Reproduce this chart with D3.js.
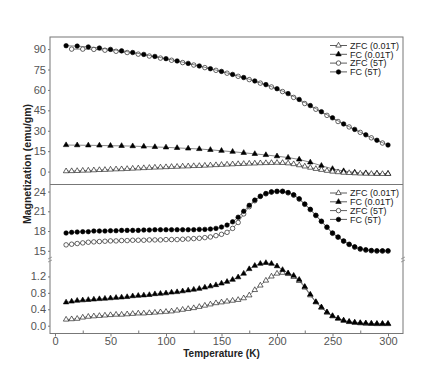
<!DOCTYPE html>
<html>
<head>
<meta charset="utf-8">
<script src="https://cdn.jsdelivr.net/npm/d3@7"></script>
<style>
body { margin: 0; background: #fff; }
text { font-family: "Liberation Sans", Arial, sans-serif; }
</style>
</head>
<body>
<div id="chart"></div>
<script>
// temperatures (K)
var tempsBy10 = [10,20,30,40,50,60,70,80,90,100,110,120,130,140,150,160,170,180,190,200,210,220,230,240,250,260,270,280,290,300];
var tempsBy10Offset = [15,25,35,45,55,65,75,85,95,105,115,125,135,145,155,165,175,185,195,205,215,225,235,245,255,265,275,285,295];
var tempsBy5 = [10,15,20,25,30,35,40,45,50,55,60,65,70,75,80,85,90,95,100,105,110,115,120,125,130,135,140,145,150,155,160,165,170,175,180,185,190,195,200,205,210,215,220,225,230,235,240,245,250,255,260,265,270,275,280,285,290,295,300];

// top panel (emu/gm)
var topZfc001 = [0.3,0.4,0.5,0.7,0.8,1.0,1.2,1.3,1.5,1.7,1.8,2.0,2.2,2.4,2.6,2.8,3.0,3.1,3.3,3.5,3.6,3.8,3.9,4.1,4.2,4.4,4.6,4.8,5.0,5.2,5.4,5.6,5.7,5.9,6.0,6.2,6.3,6.4,6.5,6.4,6.1,5.5,4.7,3.8,2.9,2.0,1.3,0.6,0.0,-0.4,-0.8,-1.0,-1.2,-1.4,-1.5,-1.6,-1.6,-1.7,-1.7];
var topFc001 = [19.5,19.4,19.3,19.2,19.0,18.9,18.7,18.4,18.1,17.8,17.4,17.0,16.6,16.0,15.3,14.6,13.8,13.0,12.2,11.3,10.3,8.9,6.8,4.3,2.0,0.4,-0.6,-1.1,-1.4,-1.5];
var topZfc5 = [90.0,90.0,89.8,89.2,88.4,87.5,86.3,84.9,83.4,81.8,80.1,78.3,76.4,74.4,72.3,70.0,67.6,65.0,62.2,58.8,54.5,50.0,45.8,41.3,36.8,32.8,28.8,24.8,21.0];
var topFc5 = [92.5,92.2,91.6,90.8,89.8,88.7,87.5,86.1,84.6,83.0,81.3,79.5,77.6,75.6,73.6,71.4,69.1,66.6,63.9,60.9,57.3,53.0,48.5,44.0,39.5,35.0,31.0,27.0,23.0,19.5];

// bottom panel (broken axis)
var botZfc001 = [0.15,0.16,0.17,0.20,0.22,0.23,0.24,0.25,0.26,0.27,0.27,0.28,0.29,0.30,0.30,0.31,0.32,0.33,0.34,0.35,0.37,0.39,0.41,0.43,0.46,0.49,0.52,0.55,0.57,0.59,0.61,0.63,0.67,0.74,0.87,0.98,1.10,1.20,1.27,1.29,1.26,1.19,1.09,0.93,0.74,0.57,0.44,0.32,0.23,0.17,0.12,0.09,0.07,0.06,0.05,0.05,0.04,0.04,0.04];
var botFc001 = [0.57,0.59,0.61,0.62,0.63,0.64,0.65,0.66,0.67,0.68,0.69,0.70,0.72,0.73,0.74,0.75,0.77,0.78,0.79,0.81,0.82,0.84,0.86,0.88,0.90,0.93,0.96,0.99,1.03,1.07,1.12,1.18,1.27,1.38,1.46,1.51,1.53,1.51,1.45,1.36,1.28,1.22,1.12,0.95,0.76,0.58,0.45,0.33,0.24,0.18,0.13,0.10,0.08,0.07,0.06,0.05,0.05,0.05,0.05];
var botZfc5 = [15.9,16.0,16.1,16.2,16.3,16.35,16.4,16.45,16.5,16.5,16.55,16.55,16.6,16.6,16.6,16.65,16.65,16.65,16.7,16.7,16.7,16.75,16.8,16.85,16.9,17.0,17.1,17.3,17.5,17.8,18.4,19.3,20.6,21.7,22.6,23.25,23.65,23.9,24.0,24.0,23.8,23.45,22.85,22.05,21.25,20.35,19.45,18.55,17.65,17.05,16.45,15.95,15.55,15.25,15.1,15.0,14.95,14.95,14.95];
var botFc5 = [17.7,17.8,17.85,17.9,17.9,18.0,18.0,18.0,18.05,18.05,18.1,18.1,18.1,18.1,18.15,18.15,18.2,18.2,18.2,18.2,18.2,18.2,18.2,18.2,18.25,18.25,18.3,18.4,18.6,18.9,19.4,20.1,21.0,21.9,22.7,23.3,23.7,23.95,24.05,24.05,23.85,23.5,22.9,22.1,21.3,20.4,19.5,18.6,17.7,17.1,16.5,16.0,15.6,15.3,15.15,15.05,15.0,15.0,15.0];

var topTicks = [0, 15, 30, 45, 60, 75, 90];
var upperTicks = [15, 18, 21, 24];
var lowerTicks = [0.0, 0.4, 0.8, 1.2];
var xTicks = [0, 50, 100, 150, 200, 250, 300];
var xMinorTicks = [25, 75, 125, 175, 225, 275];
var legendNames = ['ZFC (0.01T)', 'FC (0.01T)', 'ZFC (5T)', 'FC (5T)'];

var width = 436, height = 382;
var plotLeft = 50, plotRight = 403, plotTop = 37, plotMid = 184.5, plotBottom = 333.5, breakY = 260;

var svg = d3.select('#chart').append('svg')
  .attr('width', width)
  .attr('height', height);

var x = d3.scaleLinear().domain([-4.5, 313.5]).range([plotLeft, plotRight]);
var yTop = d3.scaleLinear().domain([-9.5, 98.9]).range([plotMid, plotTop]);
var yUpper = d3.scaleLinear().domain([13.6, 25.07]).range([breakY, plotMid]);
var yLower = d3.scaleLinear().domain([-0.19, 1.6]).range([plotBottom, breakY]);

var triangle = d3.symbol().type(d3.symbolTriangle).size(13);
var circle = d3.symbol().type(d3.symbolCircle).size(16);

// marker styles: open / filled triangle, open / filled circle
var styles = [
  { sym: triangle, fill: '#fff' },
  { sym: triangle, fill: '#000' },
  { sym: circle, fill: '#fff' },
  { sym: circle, fill: '#000' }
];

function drawSeries(temps, vals, y, style) {
  var pts = temps.map(function(t, i) { return [t, vals[i]]; });
  var line = d3.line()
    .x(function(d) { return x(d[0]); })
    .y(function(d) { return y(d[1]); });
  svg.append('path')
    .datum(pts)
    .attr('d', line)
    .attr('fill', 'none')
    .attr('stroke', '#555')
    .attr('stroke-width', 0.7);
  svg.append('g').selectAll('path')
    .data(pts)
    .enter().append('path')
    .attr('d', style.sym)
    .attr('transform', function(d) { return 'translate(' + x(d[0]) + ',' + y(d[1]) + ')'; })
    .attr('fill', style.fill)
    .attr('stroke', '#000')
    .attr('stroke-width', 0.6);
}

// top panel
drawSeries(tempsBy10, topFc001, yTop, styles[1]);
drawSeries(tempsBy5, topZfc001, yTop, styles[0]);
drawSeries(tempsBy10Offset, topZfc5, yTop, styles[2]);
drawSeries(tempsBy10, topFc5, yTop, styles[3]);

// bottom panel
drawSeries(tempsBy5, botZfc001, yLower, styles[0]);
drawSeries(tempsBy5, botFc001, yLower, styles[1]);
drawSeries(tempsBy5, botZfc5, yUpper, styles[2]);
drawSeries(tempsBy5, botFc5, yUpper, styles[3]);

// frame
svg.append('rect')
  .attr('x', plotLeft).attr('y', plotTop)
  .attr('width', plotRight - plotLeft).attr('height', plotBottom - plotTop)
  .attr('fill', 'none').attr('stroke', '#777').attr('stroke-width', 1);
svg.append('line')
  .attr('x1', plotLeft).attr('x2', plotRight).attr('y1', plotMid).attr('y2', plotMid)
  .attr('stroke', '#777').attr('stroke-width', 1);

// axis break marks
[plotLeft, plotRight].forEach(function(bx) {
  svg.append('path')
    .attr('d', 'M' + (bx - 2) + ',' + (breakY - 1) + 'L' + (bx + 2) + ',' + (breakY - 3) +
      'M' + (bx - 2) + ',' + (breakY + 2) + 'L' + (bx + 2) + ',' + breakY)
    .attr('stroke', '#888').attr('stroke-width', 0.8);
});

function styleAxis(g) {
  g.select('.domain').remove();
  g.selectAll('line').attr('stroke', '#777');
  g.selectAll('text')
    .attr('fill', '#555')
    .style('font-size', '11px');
}

svg.append('g')
  .attr('transform', 'translate(' + plotLeft + ',0)')
  .call(d3.axisLeft(yTop).tickValues(topTicks).tickSize(2).tickPadding(2))
  .call(styleAxis);
svg.append('g')
  .attr('transform', 'translate(' + plotLeft + ',0)')
  .call(d3.axisLeft(yUpper).tickValues(upperTicks).tickSize(2).tickPadding(2))
  .call(styleAxis);
svg.append('g')
  .attr('transform', 'translate(' + plotLeft + ',0)')
  .call(d3.axisLeft(yLower).tickValues(lowerTicks).tickSize(2).tickPadding(2).tickFormat(d3.format('.1f')))
  .call(styleAxis);
svg.append('g')
  .attr('transform', 'translate(0,' + plotBottom + ')')
  .call(d3.axisBottom(x).tickValues(xTicks).tickSize(3).tickPadding(1))
  .call(styleAxis);
svg.append('g')
  .attr('transform', 'translate(0,' + plotBottom + ')')
  .call(d3.axisBottom(x).tickValues(xMinorTicks).tickSize(-3).tickFormat(''))
  .call(styleAxis);

// axis titles
svg.append('text')
  .attr('x', (plotLeft + plotRight) / 2 - 5)
  .attr('y', 357)
  .attr('text-anchor', 'middle')
  .style('font-size', '10px')
  .style('font-weight', 'bold')
  .attr('fill', '#222')
  .text('Temperature (K)');
svg.append('text')
  .attr('transform', 'translate(31,164) rotate(-90)')
  .attr('text-anchor', 'middle')
  .style('font-size', '10.5px')
  .style('font-weight', 'bold')
  .attr('fill', '#222')
  .text('Magnetization (emu/gm)');

// legends
function drawLegend(lx, ly) {
  var g = svg.append('g').attr('transform', 'translate(' + lx + ',' + ly + ')');
  legendNames.forEach(function(name, i) {
    var row = g.append('g').attr('transform', 'translate(0,' + (i * 8.8) + ')');
    row.append('line')
      .attr('x1', 0).attr('x2', 17).attr('y1', 0).attr('y2', 0)
      .attr('stroke', '#333').attr('stroke-width', 0.8);
    row.append('path')
      .attr('d', styles[i].sym)
      .attr('transform', 'translate(8.5,0)')
      .attr('fill', styles[i].fill)
      .attr('stroke', '#000')
      .attr('stroke-width', 0.6);
    row.append('text')
      .attr('x', 20).attr('y', 3.2)
      .style('font-size', '9px')
      .attr('fill', '#222')
      .text(name);
  });
}
drawLegend(330, 45.5);
drawLegend(330, 193);
</script>
</body>
</html>
